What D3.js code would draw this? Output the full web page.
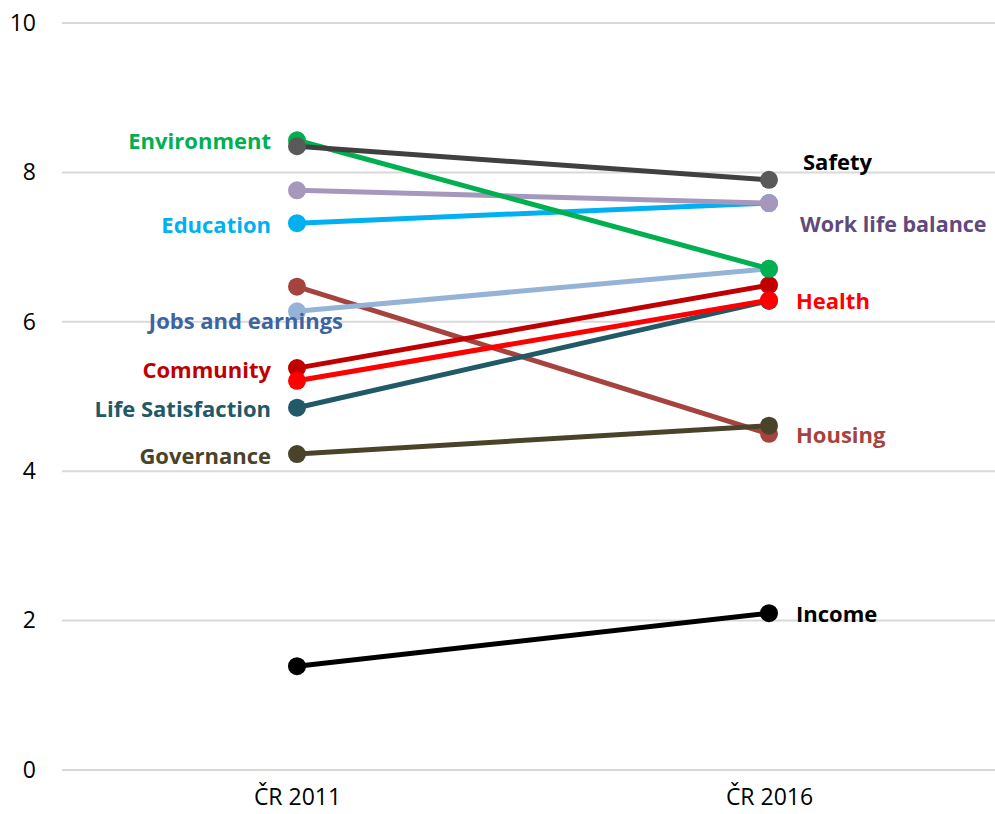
<!DOCTYPE html>
<html><head><meta charset="utf-8">
<script src="https://cdn.jsdelivr.net/npm/d3@7"></script>
<style>body{margin:0;background:#fff}svg{display:block}text{font-family:"Open Sans",sans-serif}</style>
</head><body><svg id="c" width="995" height="814"></svg>
<script>
const categories = ["ČR 2011", "ČR 2016"];
const yTicks = [0, 2, 4, 6, 8, 10];
const seriesNames = ["Housing","Jobs and earnings","Life Satisfaction","Community","Health","Education","Work life balance","Environment","Safety","Governance","Income"];
const values2011 = [6.47, 6.14, 4.85, 5.38, 5.21, 7.32, 7.76, 8.43, 8.35, 4.23, 1.39];
const values2016 = [4.50, 6.71, 6.28, 6.49, 6.29, 7.59, 7.59, 6.71, 7.90, 4.61, 2.10];
const lineColors = ["#A5433F","#95B3D7","#215967","#C00000","#FF0000","#00B0F0","#A698BC","#00B050","#404040","#494429","#000000"];
const dotColors  = ["#A5433F","#95B3D7","#215967","#C00000","#FF0000","#00B0F0","#A698BC","#00B050","#595959","#494429","#000000"];
const labelColors= ["#A5433F","#3D64A0","#215967","#C00000","#FF0000","#00B0F0","#604A7B","#00B050","#000000","#494429","#000000"];
const labelSide = ["right","left","left","left","right","left","right","left","right","left","right"];
const labelDx = [0, 72, 0, 0, 0, 0, 4, 0, 7, 0, 0];
const labelDy = [1, 10, 2, 2, 1, 2, 21, 1, -18, 2, 1];

const FONT = "'Open Sans', sans-serif";
const svg = d3.select("#c");
const y = d3.scaleLinear().domain([0, 10]).range([770, 23]);
const x = d3.scalePoint().domain(categories).range([297, 769]);

svg.append("g").selectAll("line").data(yTicks).join("line")
  .attr("x1", 62).attr("x2", 995)
  .attr("y1", d => y(d)).attr("y2", d => y(d))
  .attr("stroke", "#D9D9D9").attr("stroke-width", 2);

const yAxis = svg.append("g").attr("transform", "translate(36,0)")
  .call(d3.axisLeft(y).tickValues(yTicks).tickSize(0).tickPadding(0));
yAxis.select(".domain").remove();
yAxis.selectAll("text").attr("font-size", 23).attr("fill", "#000").attr("font-family", FONT);

const xAxis = svg.append("g").attr("transform", "translate(0,789)")
  .call(d3.axisBottom(x).tickSize(0).tickPadding(0));
xAxis.select(".domain").remove();
xAxis.selectAll("text").attr("font-size", 23).attr("fill", "#000").attr("dy", "0.71em").attr("font-family", FONT);

const data = seriesNames.map((n, i) => ({name: n, v: [values2011[i], values2016[i]], i}));

const g = svg.append("g");
data.forEach(d => {
  const gg = g.append("g");
  gg.append("line")
    .attr("x1", x(categories[0])).attr("y1", y(d.v[0]))
    .attr("x2", x(categories[1])).attr("y2", y(d.v[1]))
    .attr("stroke", lineColors[d.i]).attr("stroke-width", 5);
  gg.selectAll("circle").data(d.v).join("circle")
    .attr("cx", (v, k) => x(categories[k])).attr("cy", v => y(v))
    .attr("r", 9).attr("fill", dotColors[d.i]);
});

svg.append("g").selectAll("text").data(data).join("text")
  .attr("x", d => labelSide[d.i] === "left" ? x(categories[0]) - 26 + labelDx[d.i] : x(categories[1]) + 27 + labelDx[d.i])
  .attr("y", d => y(labelSide[d.i] === "left" ? d.v[0] : d.v[1]) + labelDy[d.i])
  .attr("dy", "0.35em")
  .attr("text-anchor", d => labelSide[d.i] === "left" ? "end" : "start")
  .attr("font-size", d => d.name === "Work life balance" ? 21.5 : 22).attr("font-weight", "bold")
  .attr("fill", d => labelColors[d.i])
  .text(d => d.name);
</script></body></html>
